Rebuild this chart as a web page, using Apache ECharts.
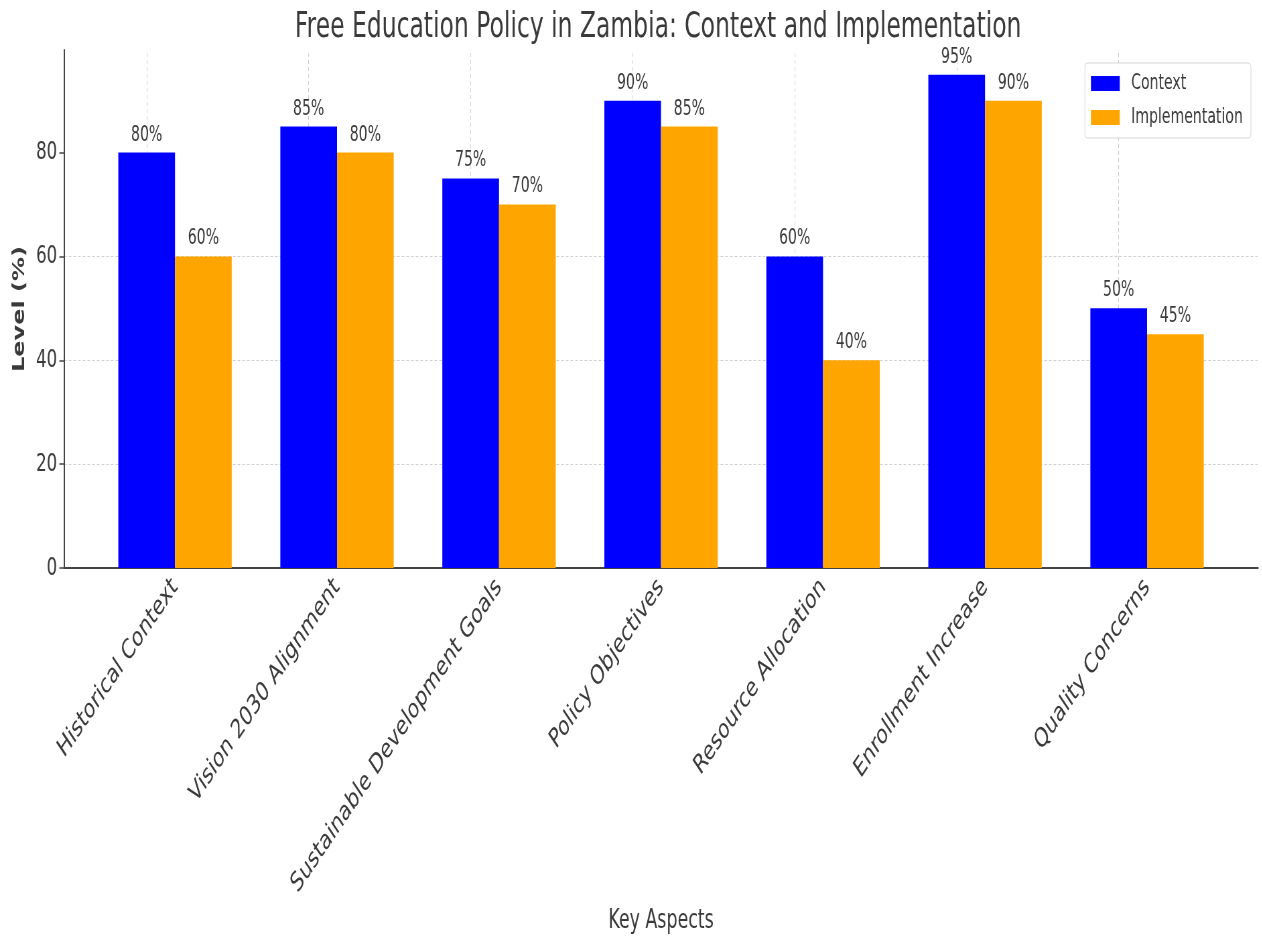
<!DOCTYPE html>
<html>
<head>
<meta charset="utf-8">
<title>Free Education Policy in Zambia</title>
<script src="https://cdn.jsdelivr.net/npm/echarts@6/dist/echarts.min.js"></script>
<style>
  html, body { margin: 0; padding: 0; background: #fff; overflow: hidden; }
  #frame { width: 1262px; height: 937px; overflow: hidden; }
  /* the reference is a horizontally squeezed render, so draw wide and squeeze */
  #chart { width: 1884px; height: 937px; transform: scaleX(0.67); transform-origin: 0 0; }
</style>
</head>
<body>
<div id="frame"><div id="chart"></div></div>
<script>
const categories = [
  'Historical Context',
  'Vision 2030 Alignment',
  'Sustainable Development Goals',
  'Policy Objectives',
  'Resource Allocation',
  'Enrollment Increase',
  'Quality Concerns'
];
const contextValues = [80, 85, 75, 90, 60, 95, 50];
const implementationValues = [60, 80, 70, 85, 40, 90, 45];
const yTicks = [0, 20, 40, 60, 80];
const yMax = 99.75;

const textColor = '#3a3a3a';
const axisColor = '#444';
const gridColor = '#cfcfcf';
const font = 'DejaVu Sans';

const chart = echarts.init(document.getElementById('chart'));

const barLabel = {
  show: true,
  position: 'top',
  distance: 7,
  color: textColor,
  fontFamily: font,
  fontSize: 21,
  formatter: (p) => p.value + '%'
};

const option = {
  animation: false,
  textStyle: { fontFamily: font },
  title: {
    text: 'Free Education Policy in Zambia: Context and Implementation',
    left: 435,
    top: 5,
    textStyle: { fontFamily: font, fontSize: 35, fontWeight: 'normal', color: textColor }
  },
  legend: {
    orient: 'vertical',
    right: 17,
    top: 63,
    padding: [10, 12, 10, 9],
    itemWidth: 43,
    itemHeight: 15,
    itemGap: 13,
    icon: 'rect',
    backgroundColor: 'rgba(255,255,255,0.85)',
    borderColor: '#d6d6d6',
    borderWidth: 1,
    borderRadius: 4,
    textStyle: { fontFamily: font, fontSize: 21, color: textColor, padding: [0, 0, 0, 12] },
    data: ['Context', 'Implementation']
  },
  grid: [
    { left: 95.5, right: 6.4, top: 50, bottom: 369, outerBoundsMode: 'none' },
    { left: 140.3, right: 51.1, top: 50, bottom: 369, outerBoundsMode: 'none' }
  ],
  xAxis: [
    {
      type: 'value',
      gridIndex: 0,
      min: 0,
      max: 1,
      axisLine: { show: true, lineStyle: { color: axisColor, width: 2 } },
      axisTick: { show: false },
      axisLabel: { show: false },
      splitLine: { show: false },
      name: 'Key Aspects',
      nameLocation: 'middle',
      nameGap: 340,
      nameTextStyle: { fontFamily: font, fontSize: 26, color: textColor }
    },
    {
      type: 'category',
      gridIndex: 1,
      data: categories,
      axisLine: { show: false },
      axisTick: { show: false },
      axisLabel: {
        rotate: 45,
        interval: 0,
        margin: 15,
        fontFamily: font,
        fontSize: 27,
        color: textColor
      },
      splitLine: { show: false }
    }
  ],
  yAxis: [
    {
      type: 'value',
      gridIndex: 0,
      min: 0,
      max: yMax,
      interval: 20,
      axisLine: { show: true, lineStyle: { color: axisColor, width: 2 } },
      axisTick: { show: true, length: 7, lineStyle: { color: axisColor, width: 1.5 }, customValues: yTicks },
      axisLabel: { margin: 10, fontFamily: font, fontSize: 25, color: textColor, customValues: yTicks },
      splitLine: {
        show: true,
        showMaxLine: false,
        lineStyle: { color: gridColor, type: [4, 3], width: 1 }
      },
      name: 'Level (%)',
      nameLocation: 'middle',
      nameGap: 54,
      nameTextStyle: { fontFamily: font, fontSize: 24, fontWeight: 'bold', color: textColor }
    },
    {
      type: 'value',
      gridIndex: 1,
      min: 0,
      max: yMax,
      show: false
    }
  ],
  series: [
    {
      name: 'Context',
      type: 'bar',
      xAxisIndex: 1,
      yAxisIndex: 1,
      data: contextValues,
      barWidth: '35%',
      barGap: '0%',
      itemStyle: { color: '#0000ff' },
      label: barLabel,
      markLine: {
        silent: true,
        symbol: 'none',
        z: 1,
        label: { show: false },
        lineStyle: { color: gridColor, type: [4, 3], width: 1 },
        data: categories.map((c) => ({ xAxis: c }))
      }
    },
    {
      name: 'Implementation',
      type: 'bar',
      xAxisIndex: 1,
      yAxisIndex: 1,
      data: implementationValues,
      barWidth: '35%',
      barGap: '0%',
      itemStyle: { color: '#ffa500' },
      label: barLabel
    }
  ]
};

chart.setOption(option);
</script>
</body>
</html>
